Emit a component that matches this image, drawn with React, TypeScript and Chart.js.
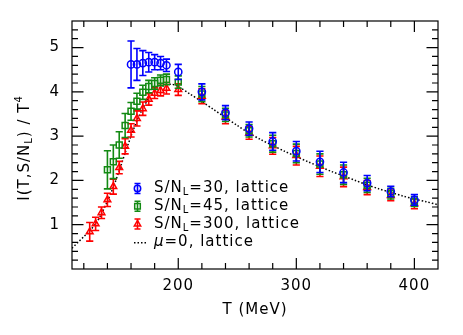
import React, { useEffect, useRef } from 'react';
import { Chart, registerables } from 'chart.js';
Chart.register(...registerables);

// ---------- data ----------
const blueT = [160, 165, 170, 175, 180, 185, 190, 200, 220, 240, 260, 280, 300, 320, 340, 360, 380, 400];
const blueV = [4.62, 4.62, 4.65, 4.67, 4.67, 4.65, 4.60, 4.45, 4.00, 3.53, 3.17, 2.88, 2.66, 2.42, 2.18, 1.94, 1.75, 1.56];
const blueE = [0.53, 0.36, 0.28, 0.22, 0.17, 0.15, 0.14, 0.17, 0.18, 0.16, 0.15, 0.20, 0.22, 0.24, 0.23, 0.17, 0.12, 0.12];

const greenT = [140, 145, 150, 155, 160, 165, 170, 175, 180, 185, 190, 200, 220, 240, 260, 280, 300, 320, 340, 360, 380, 400];
const greenV = [2.24, 2.42, 2.80, 3.24, 3.56, 3.79, 3.99, 4.12, 4.19, 4.26, 4.28, 4.22, 3.95, 3.48, 3.12, 2.83, 2.61, 2.37, 2.13, 1.89, 1.70, 1.52];
const greenE = [0.43, 0.38, 0.30, 0.27, 0.20, 0.18, 0.16, 0.14, 0.13, 0.12, 0.12, 0.14, 0.17, 0.15, 0.14, 0.19, 0.21, 0.23, 0.22, 0.16, 0.12, 0.11];

const redT = [125, 130, 135, 140, 145, 150, 155, 160, 165, 170, 175, 180, 185, 190, 200, 220, 240, 260, 280, 300, 320, 340, 360, 380, 400];
const redV = [0.84, 1.02, 1.27, 1.56, 1.86, 2.29, 2.77, 3.13, 3.40, 3.62, 3.83, 3.97, 4.03, 4.08, 4.05, 3.90, 3.43, 3.07, 2.78, 2.56, 2.32, 2.08, 1.84, 1.66, 1.47];
const redE = [0.21, 0.15, 0.13, 0.15, 0.17, 0.14, 0.17, 0.15, 0.17, 0.15, 0.13, 0.12, 0.12, 0.13, 0.13, 0.17, 0.15, 0.14, 0.19, 0.21, 0.23, 0.22, 0.16, 0.12, 0.11];

const muT = [110, 115, 120, 125, 130, 135, 140, 145, 150, 155, 160, 165, 170, 175, 180, 185, 190, 195, 200, 210, 220, 230, 240, 250, 260, 270, 280, 290, 300, 310, 320, 330, 340, 350, 360, 370, 380, 390, 400, 410, 420];
const muV = [0.47, 0.60, 0.73, 0.86, 1.02, 1.25, 1.53, 1.85, 2.22, 2.62, 3.00, 3.35, 3.63, 3.85, 4.00, 4.10, 4.16, 4.17, 4.12, 3.95, 3.78, 3.60, 3.42, 3.24, 3.07, 2.92, 2.79, 2.66, 2.54, 2.42, 2.31, 2.20, 2.10, 2.00, 1.90, 1.81, 1.73, 1.65, 1.58, 1.52, 1.45];

const xTickLabels = [200, 300, 400];
const yTickLabels = [1, 2, 3, 4, 5];

const BLUE = '#0000ff';
const GREEN = '#138a13';
const RED = '#ff0000';
const FONT = 'DejaVu Sans';

const pts = (xs: number[], ys: number[]) => xs.map((x, i) => ({ x, y: ys[i] }));

const errorBarPlugin = {
  id: 'errbars',
  afterDatasetDraw(chart: any, args: any) {
    const ds = chart.data.datasets[args.index];
    if (!ds.errors) return;
    const ys = chart.scales.y;
    const c = chart.ctx;
    c.save();
    c.strokeStyle = ds.borderColor;
    c.lineWidth = 1.6;
    args.meta.data.forEach((p: any, i: number) => {
      const v = ds.data[i].y;
      const e = ds.errors[i];
      const x = p.x;
      const y1 = ys.getPixelForValue(v + e);
      const y2 = ys.getPixelForValue(v - e);
      c.beginPath();
      c.moveTo(x, y1); c.lineTo(x, y2);
      c.moveTo(x - 3.6, y1); c.lineTo(x + 3.6, y1);
      c.moveTo(x - 3.6, y2); c.lineTo(x + 3.6, y2);
      c.stroke();
    });
    c.restore();
  },
};

const spacingPlugin = {
  id: 'spacing',
  beforeDraw(chart: any) {
    (chart.ctx as any).letterSpacing = '1px';
  },
};

function drawMarker(c: CanvasRenderingContext2D, kind: string, x: number, y: number, color: string) {
  c.save();
  c.strokeStyle = color;
  c.lineWidth = 1.5;
  c.beginPath();
  if (kind === 'circle') {
    c.arc(x, y, 3.2, 0, Math.PI * 2);
  } else if (kind === 'rect') {
    c.rect(x - 2.8, y - 2.8, 5.6, 5.6);
  } else {
    c.moveTo(x, y - 3.6); c.lineTo(x + 3.2, y + 2); c.lineTo(x - 3.2, y + 2); c.closePath();
  }
  c.stroke();
  c.lineWidth = 1.6;
  c.beginPath();
  c.moveTo(x, y - 5); c.lineTo(x, y + 5);
  c.moveTo(x - 3, y - 5); c.lineTo(x + 3, y - 5);
  c.moveTo(x - 3, y + 5); c.lineTo(x + 3, y + 5);
  c.stroke();
  c.restore();
}

// draws pieces of text with optional sub/superscript
function drawRich(c: CanvasRenderingContext2D, parts: { t: string; s?: 'sub' | 'sup'; italic?: boolean }[], x: number, y: number) {
  let cx = x;
  for (const p of parts) {
    const size = p.s ? 10 : 15;
    c.font = `${p.italic ? 'italic ' : ''}${size}px "${FONT}"`;
    const dy = p.s === 'sub' ? 4 : p.s === 'sup' ? -6 : 0;
    c.fillText(p.t, cx, y + dy);
    cx += c.measureText(p.t).width;
  }
  return cx - x;
}

const overlayPlugin = {
  id: 'overlay',
  afterDraw(chart: any) {
    const c: CanvasRenderingContext2D = chart.ctx;
    const { left, right, top, bottom } = chart.chartArea;
    const xs = chart.scales.x;
    const ys = chart.scales.y;
    c.save();
    (c as any).letterSpacing = '1px';
    // frame
    c.strokeStyle = '#000';
    c.lineWidth = 1.2;
    c.strokeRect(left, top, right - left, bottom - top);
    // ticks (inward, all four sides)
    c.beginPath();
    for (let t = 120; t < 420; t += 20) {
      const px = xs.getPixelForValue(t);
      const len = t % 100 === 0 ? 11 : 6;
      c.moveTo(px, bottom); c.lineTo(px, bottom - len);
      c.moveTo(px, top); c.lineTo(px, top + len);
    }
    for (let k = 1; k < 28; k++) {
      const v = k * 0.2;
      const py = ys.getPixelForValue(v);
      const len = k % 5 === 0 ? 11.5 : 6;
      c.moveTo(left, py); c.lineTo(left + len, py);
      c.moveTo(right, py); c.lineTo(right - len, py);
    }
    c.stroke();

    // y-axis title (rotated)
    c.fillStyle = '#000';
    c.textBaseline = 'middle';
    c.textAlign = 'left';
    const yParts = [
      { t: 'I(T,S/N' },
      { t: 'L', s: 'sub' as const },
      { t: ') / T' },
      { t: '4', s: 'sup' as const },
    ];
    let w = 0;
    for (const p of yParts) {
      c.font = `${p.s ? 10 : 15}px "${FONT}"`;
      w += c.measureText(p.t).width;
    }
    c.save();
    c.translate(25, 148);
    c.rotate(-Math.PI / 2);
    drawRich(c, yParts, -w / 2, 0);
    c.restore();

    // legend
    const rows = [
      { kind: 'circle', color: BLUE, n: '30' },
      { kind: 'rect', color: GREEN, n: '45' },
      { kind: 'tri', color: RED, n: '300' },
    ];
    const rowY = [188.5, 206.3, 224, 241.7];
    rows.forEach((r, i) => {
      drawMarker(c, r.kind, 137.5, rowY[i], r.color);
      c.fillStyle = '#000';
      drawRich(c, [{ t: 'S/N' }, { t: 'L', s: 'sub' }, { t: `=${r.n}, lattice` }], 154, rowY[i]);
    });
    c.save();
    c.strokeStyle = '#000';
    c.lineWidth = 1.5;
    c.setLineDash([1.5, 2]);
    c.beginPath();
    c.moveTo(134, rowY[3] + 1); c.lineTo(148, rowY[3] + 1);
    c.stroke();
    c.restore();
    drawRich(c, [{ t: 'μ', italic: true }, { t: '=0, lattice' }], 154, rowY[3]);
    c.restore();
  },
};

export default function App() {
  const ref = useRef<HTMLCanvasElement>(null);
  useEffect(() => {
    document.body.style.margin = '0';
    const canvas = ref.current!;
    const chart = new Chart(canvas, {
      type: 'scatter',
      data: {
        datasets: [
          {
            label: 'S/N_L=30, lattice',
            data: pts(blueT, blueV),
            errors: blueE,
            borderColor: BLUE,
            backgroundColor: 'rgba(0,0,0,0)',
            pointStyle: 'circle',
            pointRadius: 3.6,
            borderWidth: 1.5,
          } as any,
          {
            label: 'S/N_L=45, lattice',
            data: pts(greenT, greenV),
            errors: greenE,
            borderColor: GREEN,
            backgroundColor: 'rgba(0,0,0,0)',
            pointStyle: 'rect',
            pointRadius: 4.2,
            borderWidth: 1.5,
          } as any,
          {
            label: 'S/N_L=300, lattice',
            data: pts(redT, redV),
            errors: redE,
            borderColor: RED,
            backgroundColor: 'rgba(0,0,0,0)',
            pointStyle: 'triangle',
            pointRadius: 3.9,
            borderWidth: 1.5,
          } as any,
          {
            label: 'μ=0, lattice',
            data: pts(muT, muV),
            showLine: true,
            borderColor: '#000',
            borderWidth: 1.5,
            borderDash: [1.5, 2],
            pointRadius: 0,
            tension: 0.3,
          } as any,
        ],
      },
      options: {
        responsive: false,
        animation: false,
        layout: { padding: { top: 16, right: 25, left: 0, bottom: 0 } },
        plugins: { legend: { display: false }, tooltip: { enabled: false } },
        scales: {
          x: {
            type: 'linear',
            min: 110,
            max: 420,
            grid: { display: false, drawTicks: false },
            border: { display: false },
            afterBuildTicks: (s: any) => { s.ticks = xTickLabels.map((v) => ({ value: v })); },
            afterFit: (s: any) => { s.height = 66; },
            ticks: { color: '#000', font: { family: FONT, size: 15 }, padding: 8, maxRotation: 0, autoSkip: false },
            title: { display: true, text: 'T (MeV)', color: '#000', font: { family: FONT, size: 15 }, padding: { top: 0, bottom: 16 } },
          },
          y: {
            type: 'linear',
            min: 0,
            max: 5.6,
            grid: { display: false, drawTicks: false },
            border: { display: false },
            afterBuildTicks: (s: any) => { s.ticks = yTickLabels.map((v) => ({ value: v })); },
            afterFit: (s: any) => { s.width = 72; },
            ticks: { color: '#000', font: { family: FONT, size: 15 }, padding: 12, autoSkip: false },
          },
        },
      },
      plugins: [spacingPlugin, errorBarPlugin, overlayPlugin],
    } as any);
    return () => chart.destroy();
  }, []);
  return (
    <div style={{ width: 463, height: 335 }}>
      <canvas ref={ref} width={463} height={335} style={{ display: 'block' }} />
    </div>
  );
}
